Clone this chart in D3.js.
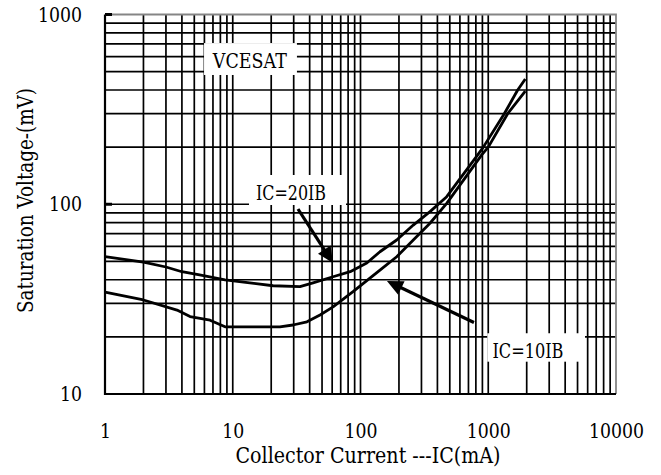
<!DOCTYPE html>
<html>
<head>
<meta charset="utf-8">
<script src="https://cdn.jsdelivr.net/npm/d3@7"></script>
<style>
  body { margin: 0; background: #fff; }
  text { font-family: 'DejaVu Serif', 'Liberation Serif', serif; fill: #000; }
</style>
</head>
<body>
<svg id="chart" width="661" height="475"></svg>
<script>
const xTickValues = [1, 10, 100, 1000, 10000];
const yTickValues = [10, 100, 1000];

// IC = 20 IB
const ic20Current = [1, 2, 3, 4, 5.5, 8.7, 13.6, 20.7, 33.6, 42.5, 61, 83, 112, 142, 192, 259, 350, 473, 827, 915, 1335, 1700, 1950];
const ic20Voltage = [52.9, 49.6, 46.7, 44.1, 42.4, 39.9, 38.5, 37.2, 36.8, 38.5, 41.5, 44.1, 49, 56.2, 64.8, 77.7, 91.4, 109.6, 182, 200, 300, 400, 457];

// IC = 10 IB
const ic10Current = [1, 2, 3.66, 4.63, 6.64, 8.7, 13.6, 23.4, 29.6, 38.1, 48.2, 61, 87.4, 142, 192, 259, 350, 473, 889, 1000, 1419, 1950];
const ic10Voltage = [34.4, 31.3, 27.7, 25.6, 24.5, 22.6, 22.6, 22.6, 23.1, 24.0, 26.1, 28.8, 34.6, 45, 52.9, 64.8, 79.4, 101, 182, 200, 300, 395];

// annotations, anchored in data units
const labelText = ['VCESAT', 'IC=20IB', 'IC=10IB'];
const labelCurrent = [13.6, 28.6, 2047];
const labelVoltage = [523, 105.3, 15.4];
const boxCurrent = [[5.96, 31.8], [13.4, 77], [983, 5718]];
const boxVoltage = [[707, 480], [142.6, 99.1], [20.9, 14.8]];
const arrowFrom = [[32.4, 94.4], [773, 23.8]];
const arrowTo = [[60.9, 49.0], [161, 39.4]];

const svg = d3.select('#chart');
const plotLeft = 105, plotRight = 616, plotTop = 14.5, plotBottom = 394;
const serif = "'DejaVu Serif', 'Liberation Serif', serif";

const x = d3.scaleLog().domain([1, 10000]).range([plotLeft, plotRight]);
const y = d3.scaleLog().domain([10, 1000]).range([plotBottom, plotTop]);

// grid
const grid = svg.append('g').attr('stroke', '#000').attr('stroke-width', 1.7);
grid.selectAll('.vline')
  .data(x.ticks().filter(d => d > 1 && d < 10000))
  .enter().append('line')
  .attr('x1', d => x(d)).attr('x2', d => x(d))
  .attr('y1', plotTop).attr('y2', plotBottom);
grid.selectAll('.hline')
  .data(y.ticks().filter(d => d > 10 && d < 1000))
  .enter().append('line')
  .attr('x1', plotLeft).attr('x2', plotRight)
  .attr('y1', d => y(d)).attr('y2', d => y(d));

// frame: gray top/right, black left/bottom
svg.append('path')
  .attr('d', `M${plotLeft},${plotTop}H${plotRight}V${plotBottom}`)
  .attr('fill', 'none').attr('stroke', '#858585').attr('stroke-width', 1.8);
svg.append('path')
  .attr('d', `M${plotLeft},${plotTop}V${plotBottom}H${plotRight}`)
  .attr('fill', 'none').attr('stroke', '#000').attr('stroke-width', 2.2);
svg.selectAll('.ytick')
  .data(yTickValues.slice(1))
  .enter().append('line')
  .attr('x1', plotLeft).attr('x2', plotLeft + 7)
  .attr('y1', d => y(d)).attr('y2', d => y(d))
  .attr('stroke', '#000').attr('stroke-width', 3);

// axes labels
const yAxis = svg.append('g')
  .attr('transform', `translate(${plotLeft},0)`)
  .call(d3.axisLeft(y).tickValues(yTickValues).tickFormat(d3.format('d')).tickSize(0).tickPadding(23));
const xAxis = svg.append('g')
  .attr('transform', `translate(0,${plotBottom})`)
  .call(d3.axisBottom(x).tickValues(xTickValues).tickFormat(d3.format('d')).tickSize(0).tickPadding(29));
[xAxis, yAxis].forEach(a => {
  a.select('.domain').remove();
  a.selectAll('text').attr('font-family', serif).attr('font-size', 21).attr('fill', '#000')
    .attr('textLength', d => String(d).length * 11).attr('lengthAdjust', 'spacingAndGlyphs');
});

// curves
const line = d3.line().x(d => x(d[0])).y(d => y(d[1]));
[[ic20Current, ic20Voltage], [ic10Current, ic10Voltage]].forEach(([c, v]) => {
  svg.append('path')
    .datum(c.map((d, i) => [d, v[i]]))
    .attr('d', line)
    .attr('fill', 'none')
    .attr('stroke', '#000')
    .attr('stroke-width', 2.8)
    .attr('stroke-linejoin', 'round');
});

// label boxes
const widths = [74, 70, 71];
labelText.forEach((t, i) => {
  const bx = boxCurrent[i].map(x), by = boxVoltage[i].map(y);
  svg.append('rect')
    .attr('x', bx[0]).attr('y', by[0])
    .attr('width', bx[1] - bx[0]).attr('height', by[1] - by[0])
    .attr('fill', '#fff');
  svg.append('text')
    .attr('x', x(labelCurrent[i]))
    .attr('y', y(labelVoltage[i]))
    .attr('text-anchor', 'middle')
    .attr('font-family', serif)
    .attr('font-size', 21)
    .attr('textLength', widths[i])
    .attr('lengthAdjust', 'spacingAndGlyphs')
    .text(t);
});

// arrows
arrowFrom.forEach((f, i) => {
  const x0 = x(f[0]), y0 = y(f[1]);
  const x1 = x(arrowTo[i][0]), y1 = y(arrowTo[i][1]);
  const len = Math.hypot(x1 - x0, y1 - y0);
  const ux = (x1 - x0) / len, uy = (y1 - y0) / len;
  const hl = 16, hw = 7.5;
  const bx = x1 - ux * hl, by = y1 - uy * hl;
  svg.append('line')
    .attr('x1', x0).attr('y1', y0)
    .attr('x2', bx + ux * 2).attr('y2', by + uy * 2)
    .attr('stroke', '#000').attr('stroke-width', 3.2);
  svg.append('polygon')
    .attr('points', [[x1, y1], [bx - uy * hw, by + ux * hw], [bx + uy * hw, by - ux * hw]].join(' '))
    .attr('fill', '#000');
});

// titles
svg.append('text')
  .attr('x', 368).attr('y', 462.5)
  .attr('text-anchor', 'middle')
  .attr('font-family', serif)
  .attr('font-size', 22)
  .attr('textLength', 265)
  .attr('lengthAdjust', 'spacingAndGlyphs')
  .text('Collector Current ---IC(mA)');

svg.append('text')
  .attr('transform', 'translate(32.5,200.5) rotate(-90)')
  .attr('text-anchor', 'middle')
  .attr('font-family', serif)
  .attr('font-size', 22)
  .attr('textLength', 225)
  .attr('lengthAdjust', 'spacingAndGlyphs')
  .text('Saturation Voltage-(mV)');
</script>
</body>
</html>
